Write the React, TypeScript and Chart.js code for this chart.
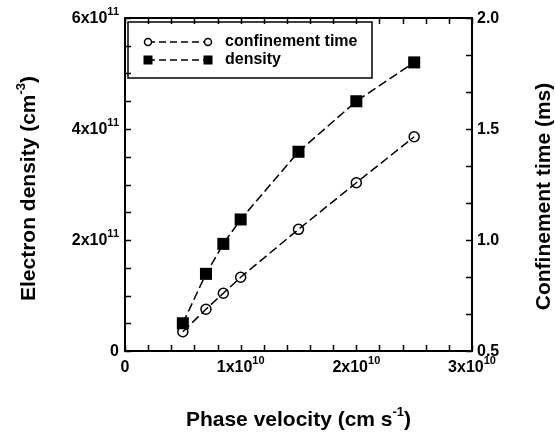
import React, { useEffect, useRef } from "react";
import { Chart, registerables } from "chart.js";

Chart.register(...registerables);

// ---- data ----
const phaseVelocity = [0.5e10, 0.7e10, 0.85e10, 1.0e10, 1.5e10, 2.0e10, 2.5e10];
const density = [0.5e11, 1.39e11, 1.93e11, 2.37e11, 3.59e11, 4.5e11, 5.2e11];
const confinementTime = [0.587, 0.688, 0.76, 0.832, 1.048, 1.258, 1.465];

const xTickValues = [0, 1e10, 2e10, 3e10];
const xTickBase = ["0", "1x10", "2x10", "3x10"];
const xTickExp = ["", "10", "10", "10"];
const yTickValues = [0, 2e11, 4e11, 6e11];
const yTickBase = ["0", "2x10", "4x10", "6x10"];
const yTickExp = ["", "11", "11", "11"];
const y1TickValues = [0.5, 1.0, 1.5, 2.0];
const y1TickLabels = ["0.5", "1.0", "1.5", "2.0"];
const legendLabels = ["confinement time", "density"];

const xMinorStep = 0.2e10;
const yMinorStep = 0.5e11;
const y1MinorStep = 0.5 / 3;

const FONT = '"Liberation Sans", Arial, Helvetica, sans-serif';

type Seg = [string, boolean];

function drawSegs(
  ctx: CanvasRenderingContext2D,
  segs: Seg[],
  x: number,
  y: number,
  align: "left" | "center" | "right",
  size: number,
  supSize: number,
  rise: number
) {
  const widths = segs.map(([t, sup]) => {
    ctx.font = `bold ${sup ? supSize : size}px ${FONT}`;
    return ctx.measureText(t).width;
  });
  const total = widths.reduce((a, b) => a + b, 0);
  let x0 = align === "left" ? x : align === "center" ? x - total / 2 : x - total;
  ctx.textAlign = "left";
  ctx.textBaseline = "middle";
  segs.forEach(([t, sup], i) => {
    ctx.font = `bold ${sup ? supSize : size}px ${FONT}`;
    ctx.fillText(t, x0, sup ? y - rise : y);
    x0 += widths[i];
  });
}

const figurePlugin = {
  id: "figureAxes",
  beforeDatasetsDraw(chart: any) {
    const ctx: CanvasRenderingContext2D = chart.ctx;
    const { left, right, top, bottom } = chart.chartArea;
    const xs = chart.scales.x;
    const ys = chart.scales.y;
    const y1s = chart.scales.y1;
    ctx.save();
    ctx.strokeStyle = "#000";
    ctx.lineWidth = 2;
    ctx.strokeRect(left, top, right - left, bottom - top);
    ctx.lineWidth = 1.5;
    const tl = 6;
    ctx.beginPath();
    for (let v = xs.min; v <= xs.max + 1; v += xMinorStep) {
      const px = Math.round(xs.getPixelForValue(v)) + 0.5;
      ctx.moveTo(px, bottom);
      ctx.lineTo(px, bottom - tl);
      ctx.moveTo(px, top);
      ctx.lineTo(px, top + tl);
    }
    for (let v = ys.min; v <= ys.max + 1; v += yMinorStep) {
      const py = Math.round(ys.getPixelForValue(v)) + 0.5;
      ctx.moveTo(left, py);
      ctx.lineTo(left + tl, py);
    }
    for (let i = 0; i <= Math.round((y1s.max - y1s.min) / y1MinorStep); i++) {
      const v = y1s.min + i * y1MinorStep;
      const py = Math.round(y1s.getPixelForValue(v)) + 0.5;
      ctx.moveTo(right, py);
      ctx.lineTo(right - tl, py);
    }
    ctx.stroke();
    ctx.restore();
  },
  afterDraw(chart: any) {
    const ctx: CanvasRenderingContext2D = chart.ctx;
    const { left, right, top, bottom } = chart.chartArea;
    const xs = chart.scales.x;
    const ys = chart.scales.y;
    const y1s = chart.scales.y1;
    ctx.save();
    ctx.fillStyle = "#000";
    const tickSize = 16;
    const supSize = 11;
    const rise = 7;
    // x tick labels
    xTickValues.forEach((v, i) => {
      const segs: Seg[] = [[xTickBase[i], false]];
      if (xTickExp[i]) segs.push([xTickExp[i], true]);
      drawSegs(ctx, segs, xs.getPixelForValue(v), bottom + 17, "center", tickSize, supSize, rise);
    });
    // left tick labels
    yTickValues.forEach((v, i) => {
      const segs: Seg[] = [[yTickBase[i], false]];
      if (yTickExp[i]) segs.push([yTickExp[i], true]);
      drawSegs(ctx, segs, left - 6, ys.getPixelForValue(v) + 1, "right", tickSize, supSize, rise);
    });
    // right tick labels
    y1TickValues.forEach((v, i) => {
      drawSegs(ctx, [[y1TickLabels[i], false]], right + 5, y1s.getPixelForValue(v) + 1, "left", tickSize, supSize, rise);
    });
    // titles
    const titleSize = 21;
    drawSegs(
      ctx,
      [["Phase velocity (cm s", false], ["-1", true], [")", false]],
      (left + right) / 2,
      bottom + 69,
      "center",
      titleSize,
      13,
      8
    );
    ctx.save();
    ctx.translate(29, (top + bottom) / 2 + 4);
    ctx.rotate(-Math.PI / 2);
    drawSegs(ctx, [["Electron density (cm", false], ["-3", true], [")", false]], 0, 0, "center", titleSize, 13, 8);
    ctx.restore();
    ctx.save();
    ctx.translate(544, (top + bottom) / 2 + 12);
    ctx.rotate(-Math.PI / 2);
    drawSegs(ctx, [["Confinement time (ms)", false]], 0, 0, "center", titleSize, 13, 8);
    ctx.restore();

    // legend
    const bx = left + 3;
    const by = top + 4;
    const bw = 244;
    const bh = 56;
    ctx.strokeStyle = "#000";
    ctx.lineWidth = 1.5;
    ctx.strokeRect(bx, by, bw, bh);
    const rows = [by + 20, by + 38];
    const m1 = bx + 20;
    const m2 = bx + 80;
    rows.forEach((ry, i) => {
      ctx.save();
      ctx.lineWidth = 1.5;
      ctx.setLineDash([7, 4]);
      ctx.beginPath();
      ctx.moveTo(m1, ry);
      ctx.lineTo(m2, ry);
      ctx.stroke();
      ctx.restore();
      if (i === 0) {
        [m1, m2].forEach((mx) => {
          ctx.fillStyle = "#fff";
          ctx.beginPath();
          ctx.arc(mx, ry, 3.5, 0, Math.PI * 2);
          ctx.fill();
          ctx.stroke();
        });
      } else {
        ctx.fillStyle = "#000";
        [m1, m2].forEach((mx) => {
          ctx.fillRect(mx - 4.5, ry - 4.5, 9, 9);
        });
      }
      ctx.fillStyle = "#000";
      drawSegs(ctx, [[legendLabels[i], false]], bx + 97, ry, "left", 16, 11, 7);
    });
    ctx.restore();
  },
};

export default function App() {
  const ref = useRef<HTMLCanvasElement | null>(null);
  useEffect(() => {
    if (!ref.current) return;
    const chart = new Chart(ref.current, {
      type: "line",
      data: {
        datasets: [
          {
            label: legendLabels[0],
            data: phaseVelocity.map((x, i) => ({ x, y: confinementTime[i] })),
            yAxisID: "y1",
            borderColor: "#000",
            borderWidth: 1.5,
            borderDash: [9, 4],
            pointStyle: "circle",
            pointRadius: 5,
            pointBorderWidth: 1.5,
            pointBorderColor: "#000",
            pointBackgroundColor: "rgba(0,0,0,0)",
            fill: false,
            tension: 0,
          },
          {
            label: legendLabels[1],
            data: phaseVelocity.map((x, i) => ({ x, y: density[i] })),
            yAxisID: "y",
            borderColor: "#000",
            borderWidth: 1.5,
            borderDash: [9, 4],
            pointStyle: "rect",
            pointRadius: 8.5,
            pointBorderWidth: 0,
            pointBorderColor: "#000",
            pointBackgroundColor: "#000",
            fill: false,
            tension: 0,
          },
        ],
      },
      options: {
        animation: false,
        responsive: false,
        devicePixelRatio: 1,
        layout: { padding: { left: 125, right: 83, top: 18, bottom: 88 } },
        plugins: { legend: { display: false }, tooltip: { enabled: false } },
        scales: {
          x: { type: "linear", min: 0, max: 3e10, display: false },
          y: { type: "linear", min: 0, max: 6e11, display: false, position: "left" },
          y1: { type: "linear", min: 0.5, max: 2.0, display: false, position: "right" },
        },
      },
      plugins: [figurePlugin],
    });
    return () => chart.destroy();
  }, []);
  return (
    <div style={{ position: "absolute", left: 0, top: 0, width: 555, height: 439, background: "#fff" }}>
      <canvas ref={ref} width={555} height={439} style={{ display: "block", width: 555, height: 439 }} />
    </div>
  );
}
